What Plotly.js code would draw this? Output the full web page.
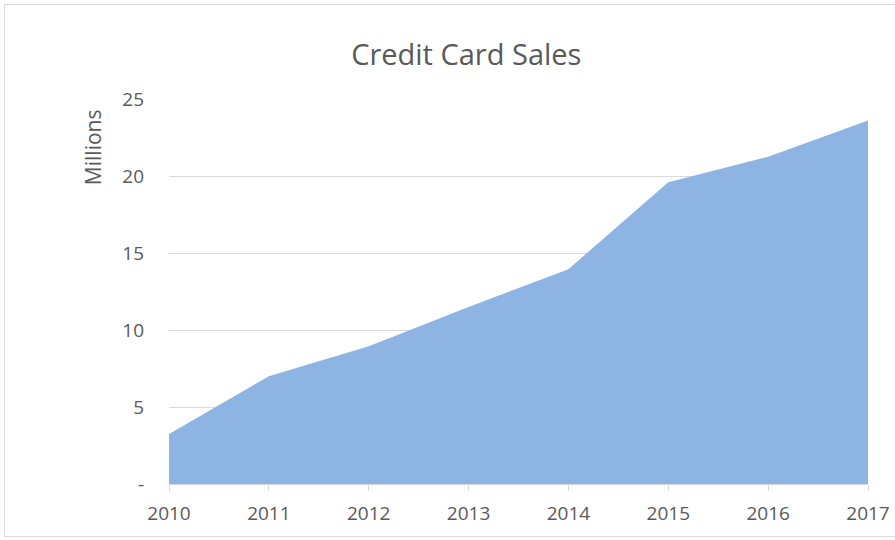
<!DOCTYPE html>
<html>
<head>
<meta charset="utf-8">
<script src="https://cdn.plot.ly/plotly-3.0.1.min.js"></script>
<style>
html,body{margin:0;padding:0;background:#fff;}
#frame{position:absolute;left:4px;top:4px;width:900px;height:533px;border:1.5px solid #d9d9d9;box-sizing:border-box;}
#chart{position:absolute;left:0;top:0;width:895px;height:540px;}
</style>
</head>
<body>
<div id="frame"></div>
<div id="chart"></div>
<script>
const years = ['2010','2011','2012','2013','2014','2015','2016','2017'];
const sales = [3.25, 7.0, 8.95, 11.5, 13.95, 19.6, 21.25, 23.6];
const yTickVals = [0, 5, 10, 15, 20, 25];
const yTickText = ['-', '5', '10', '15', '20', '25'];

const font = "'Open Sans', 'DejaVu Sans', sans-serif";
const textColor = '#595959';

Plotly.newPlot('chart', [{
  x: years,
  y: sales,
  type: 'scatter',
  mode: 'none',
  fill: 'tozeroy',
  fillcolor: '#8eb4e3',
  hoverinfo: 'x+y'
}], {
  width: 895,
  height: 540,
  paper_bgcolor: 'rgba(0,0,0,0)',
  plot_bgcolor: 'rgba(0,0,0,0)',
  margin: {l: 169, r: 27, t: 99, b: 56},
  showlegend: false,
  title: {
    text: 'Credit Card Sales',
    font: {family: font, size: 29, color: textColor},
    x: 0.521, xanchor: 'center',
    y: 0.898, yanchor: 'middle'
  },
  xaxis: {
    type: 'category',
    range: [0, 7],
    showgrid: false,
    zeroline: false,
    showline: true,
    linecolor: '#d9d9d9',
    linewidth: 1,
    ticks: 'outside',
    ticklen: 6,
    tickcolor: '#d9d9d9',
    tickfont: {family: font, size: 19, color: textColor},
    ticklabelstandoff: 6
  },
  yaxis: {
    range: [0, 25],
    tickvals: yTickVals,
    ticktext: yTickText,
    showgrid: true,
    gridcolor: '#d9d9d9',
    gridwidth: 1,
    zeroline: false,
    showline: false,
    ticks: '',
    tickfont: {family: font, size: 19, color: textColor},
    ticklabelstandoff: 24
  },
  annotations: [{
    text: 'Millions',
    textangle: -90,
    xref: 'paper', yref: 'paper',
    x: -0.1087, y: 0.875,
    xanchor: 'center', yanchor: 'middle',
    showarrow: false,
    font: {family: font, size: 21, color: textColor}
  }]
}, {displayModeBar: false, staticPlot: true});
</script>
</body>
</html>
